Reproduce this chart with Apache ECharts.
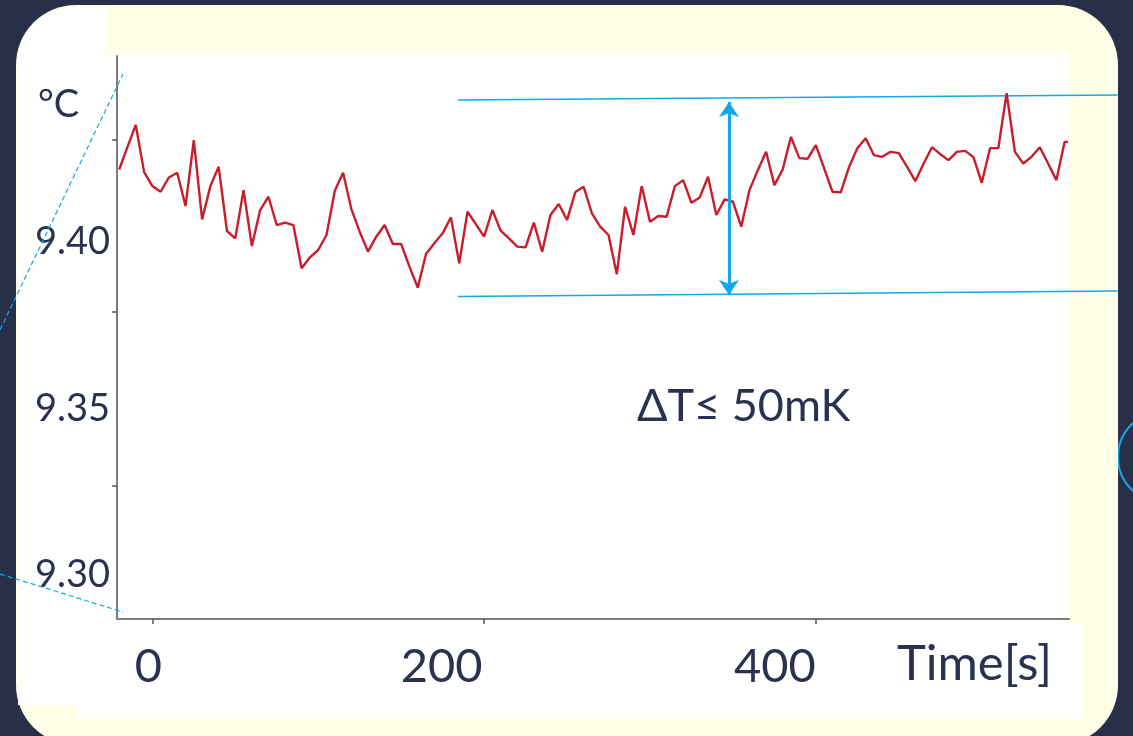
<!DOCTYPE html>
<html><head><meta charset="utf-8">
<script src="https://cdn.jsdelivr.net/npm/echarts@6/dist/echarts.min.js"></script>
<style>html,body{margin:0;padding:0;background:#283049}#c{width:1133px;height:736px}</style>
</head><body><div id="c"></div>
<script>
// time stamps (s)
const times = [
  -20,-15,-10,-5,0,5,10,15,20,25,
  30,35,40,45,50,55,60,65,70,75,
  80,85,90,95,100,105,110,115,120,125,
  130,135,140,145,150,155,160,165,170,175,
  180,185,190,195,200,205,210,215,220,225,
  230,235,240,245,250,255,260,265,270,275,
  280,285,290,295,300,305,310,315,320,325,
  330,335,340,345,350,355,360,365,370,375,
  380,385,390,395,400,405,410,415,420,425,
  430,435,440,445,450,455,460,465,470,475,
  480,485,490,495,500,505,510,515,520,525,
  530,535,540,545,550,552
];
// temperature (°C)
const temps = [
  9.4218,9.4285,9.4352,9.4211,9.4168,9.4151,9.4194,9.4208,9.4108,9.4306,
  9.4068,9.4168,9.4226,9.4033,9.4011,9.4156,9.3988,9.4096,9.4136,9.4051,
  9.4058,9.4051,9.3921,9.3954,9.3976,9.4021,9.4154,9.4208,9.4099,9.4031,
  9.3971,9.4016,9.4051,9.3994,9.3994,9.3926,9.3863,9.3964,9.3996,9.4026,
  9.4074,9.3936,9.4091,9.4054,9.4016,9.4096,9.4034,9.4011,9.3986,9.3984,
  9.4058,9.3971,9.4081,9.4114,9.4066,9.4150,9.4166,9.4086,9.4046,9.4021,
  9.3903,9.4106,9.4021,9.4168,9.4061,9.4078,9.4076,9.4168,9.4186,9.4118,
  9.4134,9.4196,9.4081,9.4128,9.4121,9.4046,9.4156,9.4216,9.4271,9.4171,
  9.4218,9.4316,9.4252,9.4250,9.4291,9.4221,9.4151,9.4149,9.4225,9.4282,
  9.4312,9.4261,9.4256,9.4271,9.4267,9.4226,9.4183,9.4236,9.4285,9.4264,
  9.4246,9.4271,9.4274,9.4255,9.4178,9.4282,9.4282,9.4447,9.4271,9.4236,
  9.4256,9.4285,9.4236,9.4186,9.4301,9.4301
];
const xTickValues = [0, 200, 400];
const xTickLabels = ['0', '200', '400'];
const yLabelValues = [9.30, 9.35, 9.40];
const yTickValues = [9.3267, 9.3790, 9.4308];
const bandTop = [[184.3, 9.4427], [581.9, 9.4442]];
const bandBottom = [[184.3, 9.3836], [581.9, 9.3853]];
const deltaArrow = [[347.6, 9.4421], [347.6, 9.3841]];
const unitText = '°C';
const xNameText = 'Time[s]';
const noteText = 'ΔT≤ 50mK';

const NAVY = '#283049', CREAM = '#fffee6', INK = '#2a3250', BLUE = '#14a8e8', RED = '#c81d2a';
const XFONT = {fontSize: 47, fontFamily: 'Lato', color: INK};

const chart = echarts.init(document.getElementById('c'), null, {renderer: 'canvas'});
const option = {
  animation: false,
  backgroundColor: NAVY,
  grid: {left: 117, right: 64, top: 56, bottom: 117},
  xAxis: {
    type: 'value', min: -21.3, max: 552.6,
    splitLine: {show: false},
    axisLine: {onZero: false, lineStyle: {color: '#7c7c7c', width: 2}},
    axisTick: {show: true, customValues: xTickValues, length: 5, lineStyle: {color: '#555', width: 1.5}},
    axisLabel: {
      customValues: xTickValues, margin: 24,
      formatter: function (v) { const i = xTickValues.indexOf(v); return '{s' + i + '|' + xTickLabels[i] + '}'; },
      rich: {
        s0: Object.assign({padding: [0, 8, 0, 0]}, XFONT),
        s1: Object.assign({padding: [0, 85, 0, 0]}, XFONT),
        s2: Object.assign({padding: [0, 82, 0, 0]}, XFONT)
      }
    }
  },
  yAxis: {
    type: 'value', min: 9.2867, max: 9.4559,
    splitLine: {show: false},
    axisLine: {onZero: false, lineStyle: {color: '#7c7c7c', width: 2}},
    axisTick: {show: true, customValues: yTickValues, length: 5, lineStyle: {color: '#555', width: 1.5}},
    axisLabel: {
      customValues: yLabelValues, margin: 7,
      formatter: function (v) { return v.toFixed(2); },
      fontSize: 38, fontFamily: 'Lato', color: INK
    }
  },
  series: [
    {
      type: 'line', data: times.map((t, i) => [t, temps[i]]),
      showSymbol: false, symbol: 'none', z: 5,
      lineStyle: {color: RED, width: 2.4}
    },
    {
      type: 'lines', coordinateSystem: 'cartesian2d', clip: false, z: 4, silent: true,
      symbol: 'none',
      lineStyle: {color: BLUE, width: 1.5, opacity: 1},
      data: [{coords: bandTop}, {coords: bandBottom}]
    },
    {
      type: 'lines', coordinateSystem: 'cartesian2d', clip: false, z: 6, silent: true,
      symbol: ['arrow', 'arrow'], symbolSize: 15,
      lineStyle: {color: BLUE, width: 3, opacity: 1},
      data: [{coords: deltaArrow}]
    }
  ],
  graphic: [
    {type: 'circle', z: -30, shape: {cx: 1164, cy: 457, r: 46}, style: {fill: 'none', stroke: BLUE, lineWidth: 2}},
    {type: 'rect', z: -20, shape: {x: 16, y: 5, width: 1102, height: 740, r: 60}, style: {fill: CREAM}},
    {type: 'rect', z: -15, shape: {x: 18, y: 7, width: 88, height: 698, r: [56, 0, 0, 0]}, style: {fill: '#ffffff'}},
    {type: 'rect', z: -15, shape: {x: 105, y: 55, width: 965, height: 570}, style: {fill: '#ffffff'}},
    {type: 'rect', z: -15, shape: {x: 76, y: 624, width: 1006, height: 95}, style: {fill: '#ffffff'}},
    {type: 'line', z: 20, shape: {x1: 0, y1: 330, x2: 123, y2: 74}, style: {stroke: BLUE, lineWidth: 1.2, lineDash: [5, 3]}},
    {type: 'line', z: 20, shape: {x1: 0, y1: 574, x2: 123, y2: 612}, style: {stroke: BLUE, lineWidth: 1.2, lineDash: [5, 3]}},
    {type: 'text', z: 20, left: 38, top: 86, style: {text: unitText, fontSize: 38, fontFamily: 'Lato', fill: INK}},
    {type: 'text', z: 20, left: 897, top: 640, style: {text: xNameText, fontSize: 49, fontFamily: 'Lato', fill: INK}},
    {type: 'text', z: 20, left: 637, top: 384, style: {text: noteText, fontSize: 45, fontFamily: 'Lato', fill: INK}}
  ]
};
chart.setOption(option);
</script>
</body></html>
